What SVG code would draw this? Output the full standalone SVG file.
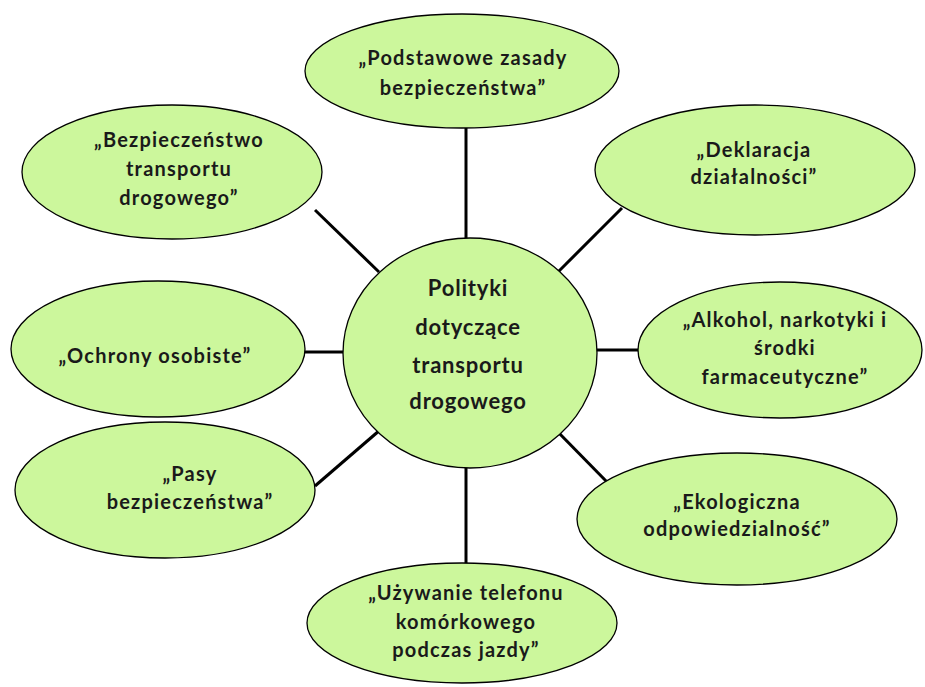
<svg xmlns="http://www.w3.org/2000/svg" width="925" height="687" viewBox="0 0 925 687">
<style>
.n{fill:#ccf79c;stroke:#000;stroke-width:1.3}
.c{stroke:#000;stroke-width:3;fill:none}
text{font-family:Lato,"Open Sans","Liberation Sans",sans-serif;font-weight:bold;font-size:20px;letter-spacing:1.2px;fill:#1a1a1a;text-anchor:middle}
.big{font-size:22px;letter-spacing:0.8px}
</style>
<rect width="925" height="687" fill="#fff"/>
<g id="connectors">
<line class="c" x1="466" y1="128" x2="466" y2="240"/>
<line class="c" x1="622" y1="208" x2="558" y2="272"/>
<line class="c" x1="596" y1="350" x2="639" y2="350"/>
<line class="c" x1="556" y1="430" x2="608" y2="483"/>
<line class="c" x1="466" y1="466" x2="466" y2="564"/>
<line class="c" x1="380" y1="430" x2="315" y2="486"/>
<line class="c" x1="305" y1="352" x2="345" y2="352"/>
<line class="c" x1="315" y1="210" x2="379" y2="272"/>
</g>
<g id="center">
<ellipse class="n" cx="470" cy="353" rx="127" ry="115"/>
<text class="big" x="468" y="296">Polityki</text>
<text class="big" x="468" y="335">dotyczące</text>
<text class="big" x="468" y="373">transportu</text>
<text class="big" x="468" y="409">drogowego</text>
</g>
<g id="n-top">
<ellipse class="n" cx="462" cy="71" rx="157" ry="57"/>
<text x="463" y="65">„Podstawowe zasady</text>
<text x="463" y="95">bezpieczeństwa”</text>
</g>
<g id="n-topleft">
<ellipse class="n" cx="172" cy="172" rx="150" ry="67"/>
<text x="179" y="147">„Bezpieczeństwo</text>
<text x="179" y="176">transportu</text>
<text x="179" y="205">drogowego”</text>
</g>
<g id="n-topright">
<ellipse class="n" cx="755" cy="170" rx="160" ry="65"/>
<text x="754" y="157">„Deklaracja</text>
<text x="754" y="184">działalności”</text>
</g>
<g id="n-left">
<ellipse class="n" cx="158" cy="349" rx="147" ry="68"/>
<text x="155" y="363">„Ochrony osobiste”</text>
</g>
<g id="n-right">
<ellipse class="n" cx="780" cy="350" rx="142" ry="68"/>
<text x="785" y="327">„Alkohol, narkotyki i</text>
<text x="785" y="355">środki</text>
<text x="785" y="384">farmaceutyczne”</text>
</g>
<g id="n-bottomleft">
<ellipse class="n" cx="165" cy="490" rx="150" ry="68"/>
<text x="190" y="481">„Pasy</text>
<text x="190" y="509">bezpieczeństwa”</text>
</g>
<g id="n-bottomright">
<ellipse class="n" cx="737" cy="519" rx="160" ry="66"/>
<text x="737" y="509">„Ekologiczna</text>
<text x="737" y="536">odpowiedzialność”</text>
</g>
<g id="n-bottom">
<ellipse class="n" cx="462" cy="623" rx="155" ry="60"/>
<text x="466" y="600">„Używanie telefonu</text>
<text x="466" y="629">komórkowego</text>
<text x="466" y="657">podczas jazdy”</text>
</g>
</svg>
